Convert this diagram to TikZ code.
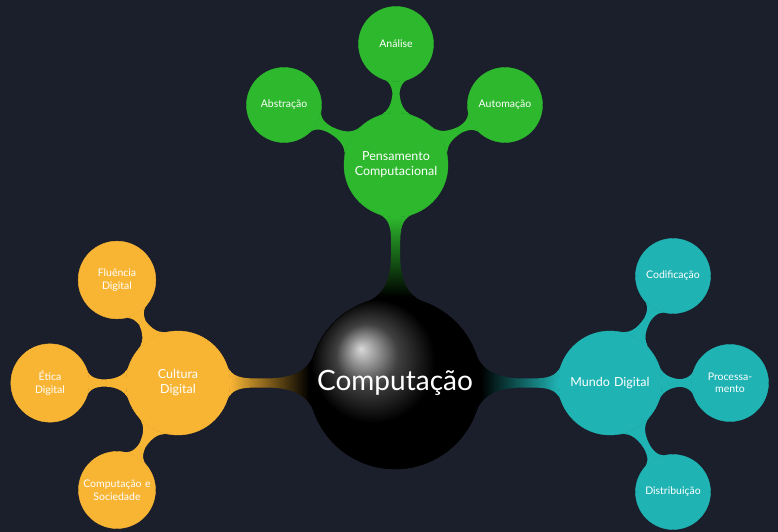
\documentclass[tikz,border=0pt]{standalone}
\usepackage{fontspec}
\setmainfont{Lato}
\usetikzlibrary{mindmap}
\pgfdeclarelayer{bg}
\pgfsetlayers{bg,main}
\definecolor{bgnavy}{HTML}{1B1F2B}
\definecolor{pcgreen}{HTML}{2DB82D}
\definecolor{cdorange}{HTML}{F8B534}
\definecolor{mdteal}{HTML}{1FB3B3}
\tikzset{
  rootconcept/.style={concept, concept color=black, ball color=black, minimum size=170pt,
    text width=168pt, font=\fontsize{28}{32}\selectfont, text=white!80},
  mainconcept/.style={concept, minimum size=104pt, text width=96pt,
    font=\fontsize{12.5}{15}\selectfont, text=white!88},
  leafconcept/.style={concept, minimum size=75pt, text width=72pt,
    font=\fontsize{10.5}{12.5}\selectfont, text=white!88},
  link/.style={circle connection bar switch color=from (#1) to (#1)},
  rootlink/.style={circle connection bar switch color=from (black) to (#1)},
}

\begin{document}
\begin{tikzpicture}[mindmap]
        \begin{pgfonlayer}{bg}
                \fill[bgnavy] (-393pt, -149pt) rectangle (385pt, 383pt);
        \end{pgfonlayer}
        \useasboundingbox (-393pt, -149pt) rectangle (385pt, 383pt);
        \node (c0) [rootconcept] at (2pt, 0pt) {Computação};
        % pensamento computacional
        \node (p0) [mainconcept, concept color=pcgreen] at (3pt, 218pt) {Pensamento\\Computacional};
        \node (p1) [leafconcept, concept color=pcgreen] at (3pt, 339pt) {Análise};
        \node (p2) [leafconcept, concept color=pcgreen] at (-109pt, 278pt) {Abstração};
        \node (p3) [leafconcept, concept color=pcgreen] at (112pt, 278pt) {Automação};
        % cultura digital
        \node (d0) [mainconcept, concept color=cdorange] at (-215pt, 0pt) {Cultura\\Digital};
        \node (d1) [leafconcept, concept color=cdorange] at (-276pt, 103pt) {Fluência\\Digital};
        \node (d2) [leafconcept, concept color=cdorange] at (-343pt, 0pt) {Ética\\Digital};
        \node (d3) [leafconcept, concept color=cdorange] at (-276pt, -107pt) {Computação e\\Sociedade};
        % mundo digital
        \node (m0) [mainconcept, concept color=mdteal] at (217pt, 0pt) {Mundo Digital};
        \node (m1) [leafconcept, concept color=mdteal] at (280pt, 107pt) {Codificação};
        \node (m2) [leafconcept, concept color=mdteal] at (337pt, 0pt) {Processa-\\mento};
        \node (m3) [leafconcept, concept color=mdteal] at (280pt, -109pt) {Distribuição};
        \begin{pgfonlayer}{bg}
                \path (c0) to [rootlink=pcgreen] (p0);
                \path (c0) to [rootlink=cdorange] (d0);
                \path (c0) to [rootlink=mdteal] (m0);
                \path (p0) to [link=pcgreen] (p1);
                \path (p0) to [link=pcgreen] (p2);
                \path (p0) to [link=pcgreen] (p3);
                \path (d0) to [link=cdorange] (d1);
                \path (d0) to [link=cdorange] (d2);
                \path (d0) to [link=cdorange] (d3);
                \path (m0) to [link=mdteal] (m1);
                \path (m0) to [link=mdteal] (m2);
                \path (m0) to [link=mdteal] (m3);
        \end{pgfonlayer}
\end{tikzpicture}
\end{document}
